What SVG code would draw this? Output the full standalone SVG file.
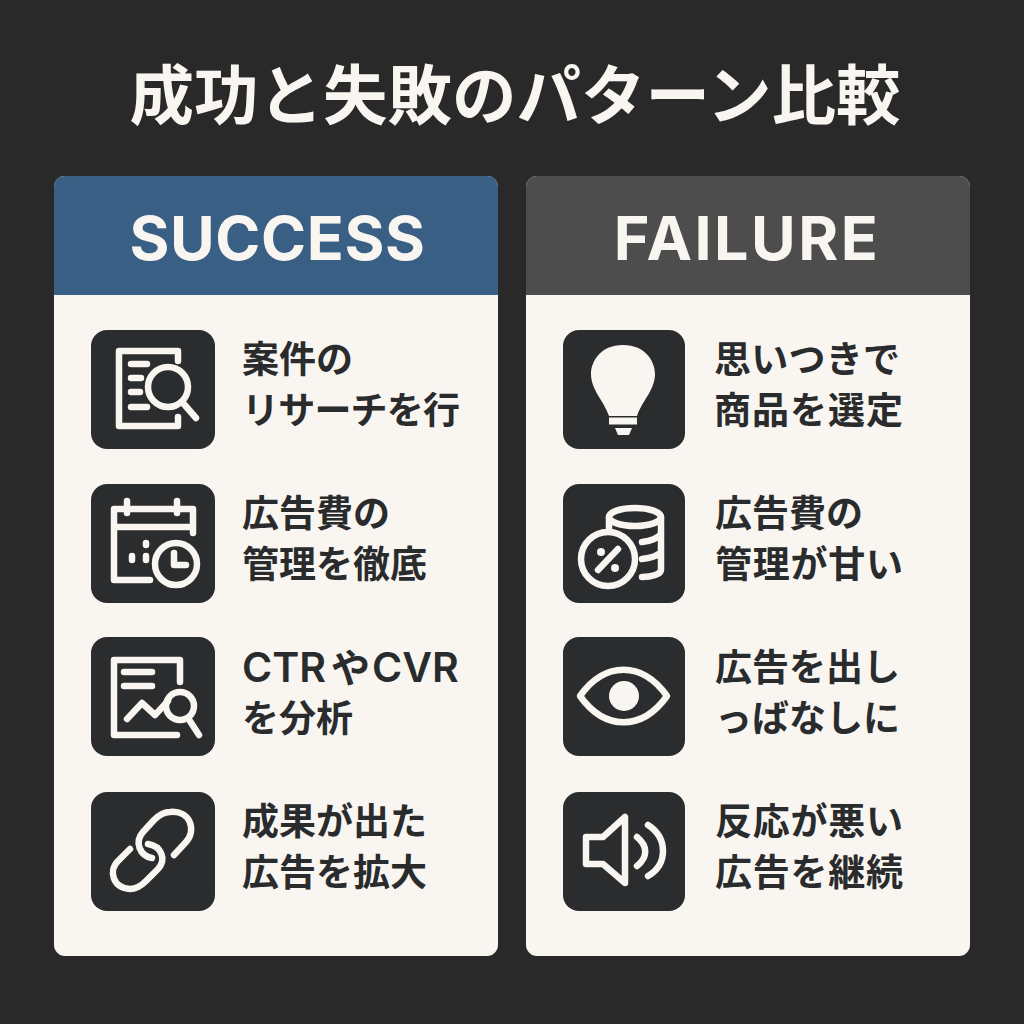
<svg xmlns="http://www.w3.org/2000/svg" width="1024" height="1024" viewBox="0 0 1024 1024">
<style>
.t{font-family:"Noto Sans CJK JP","Noto Sans",sans-serif;font-weight:700;fill:#2a2b2c;font-size:37px}
.l{font-family:"Inter","Noto Sans CJK JP",sans-serif;font-size:41px;font-weight:600}
.h{font-family:"Inter","Noto Sans",sans-serif;font-weight:700;fill:#f9f6f1;font-size:61px;text-anchor:middle}
.b{fill:#2b2c2d}
.i{fill:none;stroke:#f9f6f1;stroke-width:6.500;stroke-linecap:round;stroke-linejoin:round}
.f{fill:#f9f6f1}
</style>
<rect width="1024" height="1024" fill="#29292a"/>
<text x="515" y="119" text-anchor="middle" style="font-family:'Noto Sans CJK JP',sans-serif;font-weight:700;font-size:64.5px;fill:#f9f6f1">成功と失敗のパターン比較</text>
<g id="success">
<rect x="54" y="176" width="444" height="780" rx="11" fill="#f9f6f1"/>
<path d="M54 295V187a11 11 0 0 1 11-11H487a11 11 0 0 1 11 11V295Z" fill="#3a5f85"/>
<text class="h" x="277.500" y="260" letter-spacing="0.6">SUCCESS</text>
</g>
<g id="failure">
<rect x="526" y="176" width="444" height="780" rx="11" fill="#f9f6f1"/>
<path d="M526 295V187a11 11 0 0 1 11-11H959a11 11 0 0 1 11 11V295Z" fill="#4d4d4d"/>
<text class="h" x="747" y="260" letter-spacing="2.5">FAILURE</text>
</g>
<g id="s1"><rect class="b" x="91" y="330" width="124" height="119" rx="16"/>
<path class="i" d="M178 361V351H119V426H178V417"/>
<path class="i" stroke-width="5" d="M131 364H147M131 378H141M131 392H140M131 407H147"/>
<circle class="i" cx="168" cy="387" r="20"/><path class="i" d="M183 403L196 418"/>
<text class="t" x="242" y="373">案件の</text><text class="t" x="242" y="424" textLength="218">リサーチを行</text></g>
<g id="s2"><rect class="b" x="91" y="484" width="124" height="119" rx="16"/>
<path class="i" d="M150 580H114V509H193V533M114 527H189M127 501V513M177 501V513"/>
<path class="i" d="M132 556V560M146 543V545M146 556V560"/>
<circle class="i" cx="176" cy="564" r="21"/><path class="i" d="M174 553V565H186"/>
<text class="t" x="242" y="527">広告費の</text><text class="t" x="242" y="578">管理を徹底</text></g>
<g id="s3"><rect class="b" x="91" y="637" width="124" height="119" rx="16"/>
<path class="i" d="M180 682V660H114V735H177M124 672H152M124 686H152M127 719L142 703L155 715L168 701"/>
<circle class="i" cx="180" cy="706" r="14"/><path class="i" d="M188 718L199 735"/>
<text class="t" x="242" y="682"><tspan class="l" x="242">CTR</tspan><tspan x="331" font-size="39">や</tspan><tspan class="l" x="372">CVR</tspan></text><text class="t" x="242" y="732">を分析</text></g>
<g id="s4"><rect class="b" x="91" y="792" width="124" height="119" rx="16"/>
<path class="i" d="M130 849L118 861C108 871 113 888 130 889C137 889 142 885 146 881L158 869C167 859 161 846 148 844"/>
<path class="i" d="M174 855L186 842C197 830 190 810 170 812C163 812 158 816 154 820L143 832C134 842 140 856 152 858"/>
<text class="t" x="242" y="835">成果が出た</text><text class="t" x="242" y="886">広告を拡大</text></g>
<g id="f1"><rect class="b" x="563" y="330" width="122" height="119" rx="16"/>
<path class="f" d="M623 345C600 345 591 362 591 374C591 390 604 401 609 416H637C642 401 655 390 655 374C655 362 646 345 623 345Z"/>
<rect class="f" x="609" y="417.500" width="28" height="7"/><path class="f" d="M615 428H632L629 435H618Z"/>
<text class="t" x="714" y="373" textLength="186">思いつきで</text><text class="t" x="714" y="424" textLength="189">商品を選定</text></g>
<g id="f2"><rect class="b" x="563" y="484" width="122" height="119" rx="16"/>
<ellipse class="i" cx="635" cy="517" rx="26" ry="9"/>
<path class="i" d="M609 517V530M661 517V570C661 574 652 577 642 577M661 534C658 538 650 541 642 542M661 552C658 556 650 558 642 559"/>
<circle class="i" cx="608" cy="559" r="27"/><path class="i" d="M598 570L618 549"/>
<circle class="f" cx="601" cy="552" r="4"/><circle class="f" cx="615" cy="568" r="4"/>
<text class="t" x="715" y="527">広告費の</text><text class="t" x="715" y="578" textLength="188">管理が甘い</text></g>
<g id="f3"><rect class="b" x="563" y="637" width="122" height="119" rx="16"/>
<path class="i" d="M580 696C605 661 642 661 667 696C642 731 605 731 580 696Z"/>
<circle class="f" cx="624" cy="696" r="15"/>
<text class="t" x="715" y="681">広告を出し</text><text class="t" x="715" y="732">っばなしに</text></g>
<g id="f4"><rect class="b" x="563" y="792" width="122" height="119" rx="16"/>
<path class="i" d="M586 837H603L625 817V883L603 864H586Z"/>
<path class="i" d="M637 837C648 846 648 857 637 866M648 825C668 838 668 864 648 876"/>
<text class="t" x="715" y="835" textLength="188">反応が悪い</text><text class="t" x="715" y="886" textLength="188">広告を継続</text></g>
</svg>
